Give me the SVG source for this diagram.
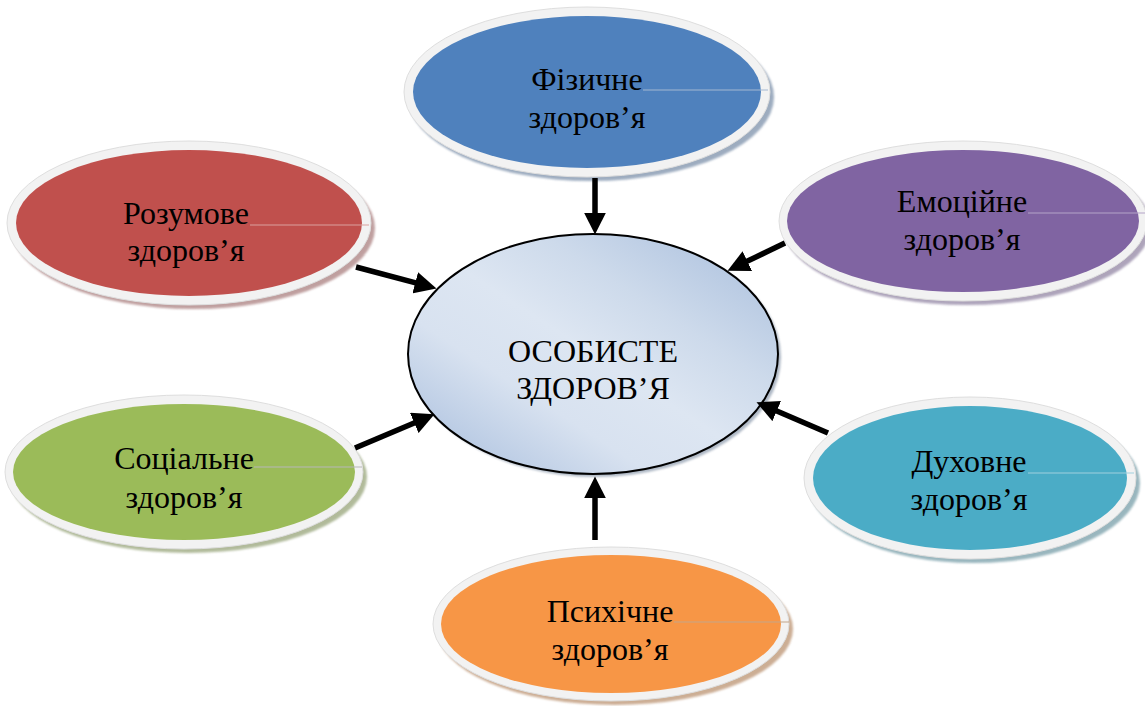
<svg xmlns="http://www.w3.org/2000/svg" width="1145" height="706" viewBox="0 0 1145 706">
<defs>
<style>
.txt{font-family:"Liberation Serif","Times New Roman",serif;font-size:32px;fill:#000;text-anchor:middle}
.ring{fill:#f2f2f2;stroke:#dedede;stroke-width:1}
.shadow{opacity:0.8;filter:url(#blur)}
.conn{stroke:#000;stroke-width:5.5;fill:none;marker-end:url(#ah)}
.tick{stroke-width:1.2;fill:none}
</style>
<marker id="ah" viewBox="0 0 4 4" refX="0.8" refY="2" markerWidth="4" markerHeight="4" orient="auto" markerUnits="strokeWidth">
<path d="M0,0 L4,2 L0,4 z" fill="#000"/>
</marker>
<filter id="blur" x="-10%" y="-10%" width="120%" height="120%"><feGaussianBlur stdDeviation="1"/></filter>
<linearGradient id="cg" x1="0" y1="1" x2="1" y2="0">
<stop offset="0" stop-color="#a3badb"/>
<stop offset="0.33" stop-color="#d8e2f0"/>
<stop offset="0.5" stop-color="#dde6f2"/>
<stop offset="0.68" stop-color="#cddaeb"/>
<stop offset="1" stop-color="#a7bddc"/>
</linearGradient>
</defs>
<rect width="1145" height="706" fill="#fff"/>

<g id="node-physical">
<ellipse class="shadow" cx="591" cy="97" rx="183" ry="84" fill="#8598b0"/>
<ellipse class="ring" cx="587" cy="92" rx="183" ry="85"/>
<ellipse cx="587" cy="92" rx="174" ry="76" fill="#4f81bd"/>
<line class="tick" x1="643" y1="90" x2="768" y2="90" stroke="#a4b8d2"/>
<text class="txt" x="587" y="90">Фізичне</text>
<text class="txt" x="587" y="128">здоров’я</text>
</g>

<g id="node-mental">
<ellipse class="shadow" cx="193" cy="228" rx="182" ry="81" fill="#b08888"/>
<ellipse class="ring" cx="189" cy="223" rx="182" ry="82"/>
<ellipse cx="189" cy="223" rx="173" ry="73" fill="#c0504d"/>
<line class="tick" x1="250" y1="225" x2="369" y2="225" stroke="#d9a09e"/>
<text class="txt" x="186" y="224">Розумове</text>
<text class="txt" x="186" y="261">здоров’я</text>
</g>

<g id="node-emotional">
<ellipse class="shadow" cx="967" cy="226" rx="184" ry="79" fill="#9a8eaa"/>
<ellipse class="ring" cx="963" cy="221" rx="184" ry="80"/>
<ellipse cx="963" cy="221" rx="176" ry="71" fill="#8064a2"/>
<line class="tick" x1="1028" y1="213" x2="1145" y2="213" stroke="#b3a3c8"/>
<text class="txt" x="962" y="212">Емоційне</text>
<text class="txt" x="962" y="250">здоров’я</text>
</g>

<g id="node-spiritual">
<ellipse class="shadow" cx="974" cy="483" rx="166" ry="80" fill="#80a4ae"/>
<ellipse class="ring" cx="970" cy="478" rx="166" ry="81"/>
<ellipse cx="970" cy="478" rx="157" ry="72" fill="#4bacc6"/>
<line class="tick" x1="1028" y1="473" x2="1134" y2="473" stroke="#9fd0dd"/>
<text class="txt" x="969" y="472">Духовне</text>
<text class="txt" x="969" y="510">здоров’я</text>
</g>

<g id="node-psychic">
<ellipse class="shadow" cx="615" cy="629" rx="178" ry="76" fill="#c09a7a"/>
<ellipse class="ring" cx="611" cy="624" rx="178" ry="77"/>
<ellipse cx="611" cy="624" rx="170" ry="69" fill="#f79646"/>
<line class="tick" x1="674" y1="622" x2="789" y2="622" stroke="#c4a68a"/>
<text class="txt" x="610" y="622">Психічне</text>
<text class="txt" x="610" y="660">здоров’я</text>
</g>

<g id="node-social">
<ellipse class="shadow" cx="188" cy="477" rx="179" ry="76" fill="#9eaa82"/>
<ellipse class="ring" cx="184" cy="472" rx="179" ry="77"/>
<ellipse cx="184" cy="472" rx="171" ry="68" fill="#9bbb59"/>
<line class="tick" x1="254" y1="467" x2="362" y2="467" stroke="#b8b8b8"/>
<text class="txt" x="184" y="469">Соціальне</text>
<text class="txt" x="184" y="508">здоров’я</text>
</g>

<g id="node-center">
<ellipse cx="596" cy="357" rx="185" ry="120" fill="#6d7f96" opacity="0.55" filter="url(#blur)"/>
<ellipse cx="593" cy="354" rx="185" ry="120" fill="url(#cg)" stroke="#000" stroke-width="2"/>
<text class="txt" x="593" y="362">ОСОБИСТЕ</text>
<text class="txt" x="593" y="399">ЗДОРОВ’Я</text>
</g>

<g id="connectors">
<line class="conn" x1="595" y1="178" x2="595" y2="217"/>
<line class="conn" x1="356" y1="267" x2="419.5" y2="283.9"/>
<line class="conn" x1="785" y1="243" x2="743.4" y2="263.1"/>
<line class="conn" x1="355" y1="448" x2="418.3" y2="421.2"/>
<line class="conn" x1="828" y1="433" x2="772.7" y2="409.3"/>
<line class="conn" x1="595" y1="540" x2="595" y2="494"/>
</g>
</svg>
